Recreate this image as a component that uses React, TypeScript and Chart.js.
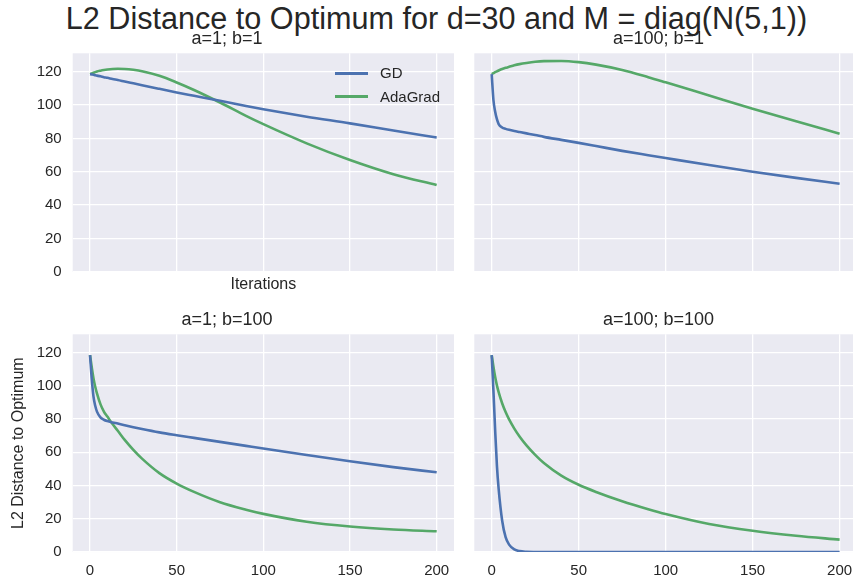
import React, { useEffect, useRef } from "react";
import { Chart, registerables } from "chart.js";

Chart.register(...registerables);

const ITERS = [0, 1, 2, 3, 4, 6, 8, 10, 13, 16, 20, 25, 30, 40, 50, 60, 75, 90, 100, 125, 150, 175, 200];

// a=1; b=1
const GD_A1_B1 = [118.5, 118.3, 118.1, 117.8, 117.6, 117.2, 116.7, 116.3, 115.6, 115.0, 114.1, 113.0, 111.9, 109.7, 107.5, 105.5, 102.5, 99.4, 97.5, 93.0, 89.0, 84.7, 80.5];
const ADA_A1_B1 = [118.5, 118.9, 119.3, 119.7, 120.1, 120.6, 121.0, 121.3, 121.6, 121.7, 121.6, 121.1, 120.3, 117.5, 113.5, 109.0, 101.5, 93.5, 88.5, 77.0, 67.0, 58.5, 52.0];

// a=100; b=1
const GD_A100_B1 = [118.5, 103.0, 96.0, 91.5, 88.6, 86.5, 85.7, 85.1, 84.4, 83.8, 83.0, 82.0, 80.9, 79.1, 77.3, 75.4, 72.5, 69.9, 68.2, 64.0, 60.0, 56.3, 52.8];
const ADA_A100_B1 = [118.5, 119.1, 119.7, 120.2, 120.7, 121.6, 122.3, 122.9, 123.8, 124.5, 125.2, 125.9, 126.3, 126.4, 125.7, 124.2, 121.0, 116.7, 113.6, 105.7, 97.8, 90.2, 82.8];

// a=1; b=100
const GD_A1_B100 = [118.5, 104.0, 93.5, 88.0, 84.5, 81.0, 79.6, 78.8, 78.0, 77.3, 76.3, 75.1, 74.0, 72.0, 70.3, 68.7, 66.3, 63.9, 62.3, 58.4, 54.6, 51.1, 48.0];
const ADA_A1_B100 = [118.5, 111.0, 104.5, 99.5, 95.5, 89.0, 84.5, 81.5, 77.0, 73.0, 67.5, 61.5, 56.2, 47.5, 41.2, 36.2, 30.0, 25.5, 23.0, 18.3, 15.4, 13.6, 12.5];

// a=100; b=100
const GD_A100_B100 = [118.5, 97.0, 73.0, 52.0, 38.0, 19.0, 9.0, 4.5, 1.6, 0.6, 0.2, 0.05, 0, 0, 0, 0, 0, 0, 0, 0, 0, 0, 0];
const ADA_A100_B100 = [118.5, 111.5, 105.3, 100.3, 96.2, 89.5, 84.2, 79.8, 74.3, 69.6, 64.2, 58.5, 53.6, 46.0, 40.5, 36.2, 30.6, 25.8, 22.9, 16.9, 12.8, 9.8, 7.5];

const SERIES_NAMES = ["GD", "AdaGrad"];
const SUBPLOT_TITLES = ["a=1; b=1", "a=100; b=1", "a=1; b=100", "a=100; b=100"];
const SUPTITLE = "L2 Distance to Optimum for d=30 and M = diag(N(5,1))";
const X_LABEL = "Iterations";
const Y_LABEL = "L2 Distance to Optimum";

const BLUE = "#4C72B0";
const GREEN = "#55A868";
const BG = "#EAEAF2";
const TXT = "#262626";
const FONT = "'Liberation Sans', Arial, sans-serif";

const bgPlugin = {
  id: "axesBg",
  beforeDraw(chart: any) {
    const { ctx, chartArea } = chart;
    if (!chartArea) return;
    ctx.save();
    ctx.fillStyle = BG;
    ctx.fillRect(chartArea.left, chartArea.top, chartArea.right - chartArea.left, chartArea.bottom - chartArea.top);
    ctx.restore();
  },
};

type PanelProps = {
  gd: number[];
  ada: number[];
  title: string;
  left: number;
  top: number;
  width: number;
  height: number;
  yAxisWidth: number;
  xAxisHeight: number;
  showXTicks: boolean;
  showYTicks: boolean;
  xTitle?: string;
  yTitle?: string;
};

function Panel(p: PanelProps) {
  const ref = useRef<HTMLCanvasElement | null>(null);
  useEffect(() => {
    if (!ref.current) return;
    const mk = (vals: number[]) => ITERS.map((x, i) => ({ x, y: vals[i] }));
    const line = (label: string, vals: number[], color: string) => ({
      label,
      data: mk(vals),
      borderColor: color,
      backgroundColor: color,
      borderWidth: 2.6,
      pointRadius: 0,
      cubicInterpolationMode: "monotone",
      fill: false,
    });
    const chart = new Chart(ref.current, {
      type: "line",
      data: {
        datasets: [line(SERIES_NAMES[0], p.gd, BLUE), line(SERIES_NAMES[1], p.ada, GREEN)],
      },
      options: {
        animation: false,
        responsive: false,
        maintainAspectRatio: false,
        events: [],
        layout: { padding: 0 },
        plugins: {
          legend: { display: false },
          tooltip: { enabled: false },
          title: {
            display: true,
            text: p.title,
            color: TXT,
            font: { family: FONT, size: 18, weight: "normal" },
            padding: { top: 0, bottom: 3.7 },
          },
        },
        scales: {
          x: {
            type: "linear",
            min: -10,
            max: 210,
            border: { display: false },
            grid: { color: "#ffffff", lineWidth: 1.3, drawTicks: false },
            ticks: {
              display: p.showXTicks,
              stepSize: 50,
              includeBounds: false,
              color: TXT,
              font: { family: FONT, size: 15 },
              padding: 10,
              maxRotation: 0,
            },
            title: {
              display: !!p.xTitle,
              text: p.xTitle || "",
              color: TXT,
              font: { family: FONT, size: 16 },
              padding: { top: 0, bottom: 7.5 },
            },
            afterFit: (s: any) => {
              s.height = p.xAxisHeight;
              s.paddingLeft = 0;
              s.paddingRight = 0;
            },
          },
          y: {
            type: "linear",
            min: 0,
            max: 131,
            border: { display: false },
            grid: { color: "#ffffff", lineWidth: 1.3, drawTicks: false },
            ticks: {
              display: p.showYTicks,
              stepSize: 20,
              includeBounds: false,
              color: TXT,
              font: { family: FONT, size: 15 },
              padding: 11,
            },
            title: {
              display: !!p.yTitle,
              text: p.yTitle || "",
              color: TXT,
              font: { family: FONT, size: 16 },
              padding: { top: 9.4, bottom: 0 },
            },
            afterFit: (s: any) => {
              s.width = p.yAxisWidth;
              s.paddingTop = 0;
              s.paddingBottom = 0;
            },
          },
        },
      } as any,
      plugins: [bgPlugin],
    });
    return () => chart.destroy();
  }, []);
  return (
    <canvas
      ref={ref}
      width={p.width}
      height={p.height}
      style={{ position: "absolute", left: p.left, top: p.top, width: p.width, height: p.height }}
    />
  );
}

export default function App() {
  const legendItem = (label: string, color: string, y: number) => (
    <React.Fragment key={label}>
      <div style={{ position: "absolute", left: 335, top: y - 1.3, width: 33, height: 2.6, background: color }} />
      <div
        style={{
          position: "absolute",
          left: 380,
          top: y - 9,
          height: 18,
          lineHeight: "18px",
          fontSize: 15,
          color: TXT,
          whiteSpace: "nowrap",
        }}
      >
        {label}
      </div>
    </React.Fragment>
  );
  return (
    <div
      style={{
        position: "fixed",
        left: 0,
        top: 0,
        width: 853,
        height: 584,
        overflow: "hidden",
        background: "#ffffff",
        fontFamily: FONT,
      }}
    >
      <div
        style={{
          position: "absolute",
          left: 0,
          top: 3.2,
          width: 873,
          textAlign: "center",
          fontSize: 30.6,
          lineHeight: "30px",
          color: TXT,
          whiteSpace: "nowrap",
        }}
      >
        {SUPTITLE}
      </div>
      <Panel gd={GD_A1_B1} ada={ADA_A1_B1} title={SUBPLOT_TITLES[0]} left={0} top={28.2} width={454} height={274}
        yAxisWidth={72.7} xAxisHeight={30.2} showXTicks={false} showYTicks={true} xTitle={X_LABEL} />
      <Panel gd={GD_A100_B1} ada={ADA_A100_B1} title={SUBPLOT_TITLES[1]} left={460} top={28.2} width={397} height={274}
        yAxisWidth={14.3} xAxisHeight={30.2} showXTicks={false} showYTicks={false} />
      <Panel gd={GD_A1_B100} ada={ADA_A1_B100} title={SUBPLOT_TITLES[2]} left={0} top={309.2} width={454} height={275}
        yAxisWidth={72.7} xAxisHeight={31.9} showXTicks={true} showYTicks={true} yTitle={Y_LABEL} />
      <Panel gd={GD_A100_B100} ada={ADA_A100_B100} title={SUBPLOT_TITLES[3]} left={460} top={309.2} width={397} height={275}
        yAxisWidth={14.3} xAxisHeight={31.9} showXTicks={true} showYTicks={false} />
      {legendItem(SERIES_NAMES[0], BLUE, 73.3)}
      {legendItem(SERIES_NAMES[1], GREEN, 96.7)}
    </div>
  );
}
